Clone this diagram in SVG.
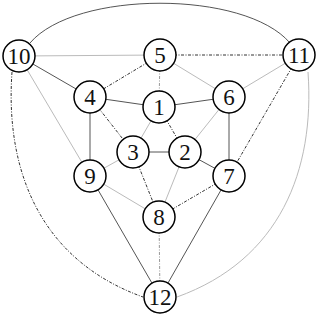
<svg xmlns="http://www.w3.org/2000/svg" width="320" height="318" viewBox="0 0 320 318">
<style>
.dk{stroke:#555;stroke-width:1;fill:none}
.lt{stroke:#bbb;stroke-width:1;fill:none}
.dd{stroke:#333;stroke-width:1;fill:none;stroke-dasharray:3 1.5 1 1.5}
.dl{stroke:#999;stroke-width:1;fill:none;stroke-dasharray:3 1.5 1 1.5}
.n circle{fill:#fff;stroke:#000;stroke-width:1.5}
.n text{font-family:"Liberation Serif","Times New Roman",serif;font-size:23px;text-anchor:middle;fill:#111}
</style>
<rect width="320" height="318" fill="#fff"/>
<g id="edges">
<path class="dk" d="M30 43 C75 -10 245 -10 290 43"/>
<path class="dd" d="M12 72 C5 170 40 260 143 297"/>
<path class="lt" d="M308 72 C315 170 280 260 177 297"/>
<line class="lt" x1="19" y1="56" x2="160" y2="55"/>
<line class="dk" x1="19" y1="56" x2="90" y2="97"/>
<line class="lt" x1="19" y1="56" x2="90" y2="176"/>
<line class="dd" x1="160" y1="55" x2="299" y2="55"/>
<line class="dd" x1="160" y1="55" x2="90" y2="97"/>
<line class="dl" x1="160" y1="55" x2="159" y2="107"/>
<line class="lt" x1="160" y1="55" x2="229" y2="97"/>
<line class="lt" x1="299" y1="55" x2="229" y2="97"/>
<line class="dd" x1="299" y1="55" x2="229" y2="176"/>
<line class="dk" x1="90" y1="97" x2="159" y2="107"/>
<line class="dd" x1="90" y1="97" x2="133" y2="152"/>
<line class="dk" x1="90" y1="97" x2="90" y2="176"/>
<line class="dk" x1="159" y1="107" x2="229" y2="97"/>
<line class="lt" x1="159" y1="107" x2="133" y2="152"/>
<line class="dd" x1="159" y1="107" x2="185" y2="152"/>
<line class="lt" x1="229" y1="97" x2="185" y2="152"/>
<line class="dk" x1="229" y1="97" x2="229" y2="176"/>
<line class="dk" x1="133" y1="152" x2="185" y2="152"/>
<line class="lt" x1="133" y1="152" x2="90" y2="176"/>
<line class="dd" x1="133" y1="152" x2="159" y2="217"/>
<line class="dk" x1="185" y1="152" x2="229" y2="176"/>
<line class="lt" x1="185" y1="152" x2="159" y2="217"/>
<line class="lt" x1="90" y1="176" x2="159" y2="217"/>
<line class="dk" x1="90" y1="176" x2="160" y2="297"/>
<line class="dd" x1="229" y1="176" x2="159" y2="217"/>
<line class="dk" x1="229" y1="176" x2="160" y2="297"/>
<line class="dl" x1="159" y1="217" x2="160" y2="297"/>
</g>
<g id="n10" class="n"><circle cx="19" cy="56" r="16"/><text x="19" y="64">10</text></g>
<g id="n5" class="n"><circle cx="160" cy="55" r="16"/><text x="160" y="63">5</text></g>
<g id="n11" class="n"><circle cx="299" cy="55" r="16"/><text x="299" y="63">11</text></g>
<g id="n4" class="n"><circle cx="90" cy="97" r="16"/><text x="90" y="105">4</text></g>
<g id="n1" class="n"><circle cx="159" cy="107" r="16"/><text x="159" y="115">1</text></g>
<g id="n6" class="n"><circle cx="229" cy="97" r="16"/><text x="229" y="105">6</text></g>
<g id="n3" class="n"><circle cx="133" cy="152" r="16"/><text x="133" y="160">3</text></g>
<g id="n2" class="n"><circle cx="185" cy="152" r="16"/><text x="185" y="160">2</text></g>
<g id="n9" class="n"><circle cx="90" cy="176" r="16"/><text x="90" y="184">9</text></g>
<g id="n7" class="n"><circle cx="229" cy="176" r="16"/><text x="229" y="184">7</text></g>
<g id="n8" class="n"><circle cx="159" cy="217" r="16"/><text x="159" y="225">8</text></g>
<g id="n12" class="n"><circle cx="160" cy="297" r="16"/><text x="160" y="305">12</text></g>
</svg>
